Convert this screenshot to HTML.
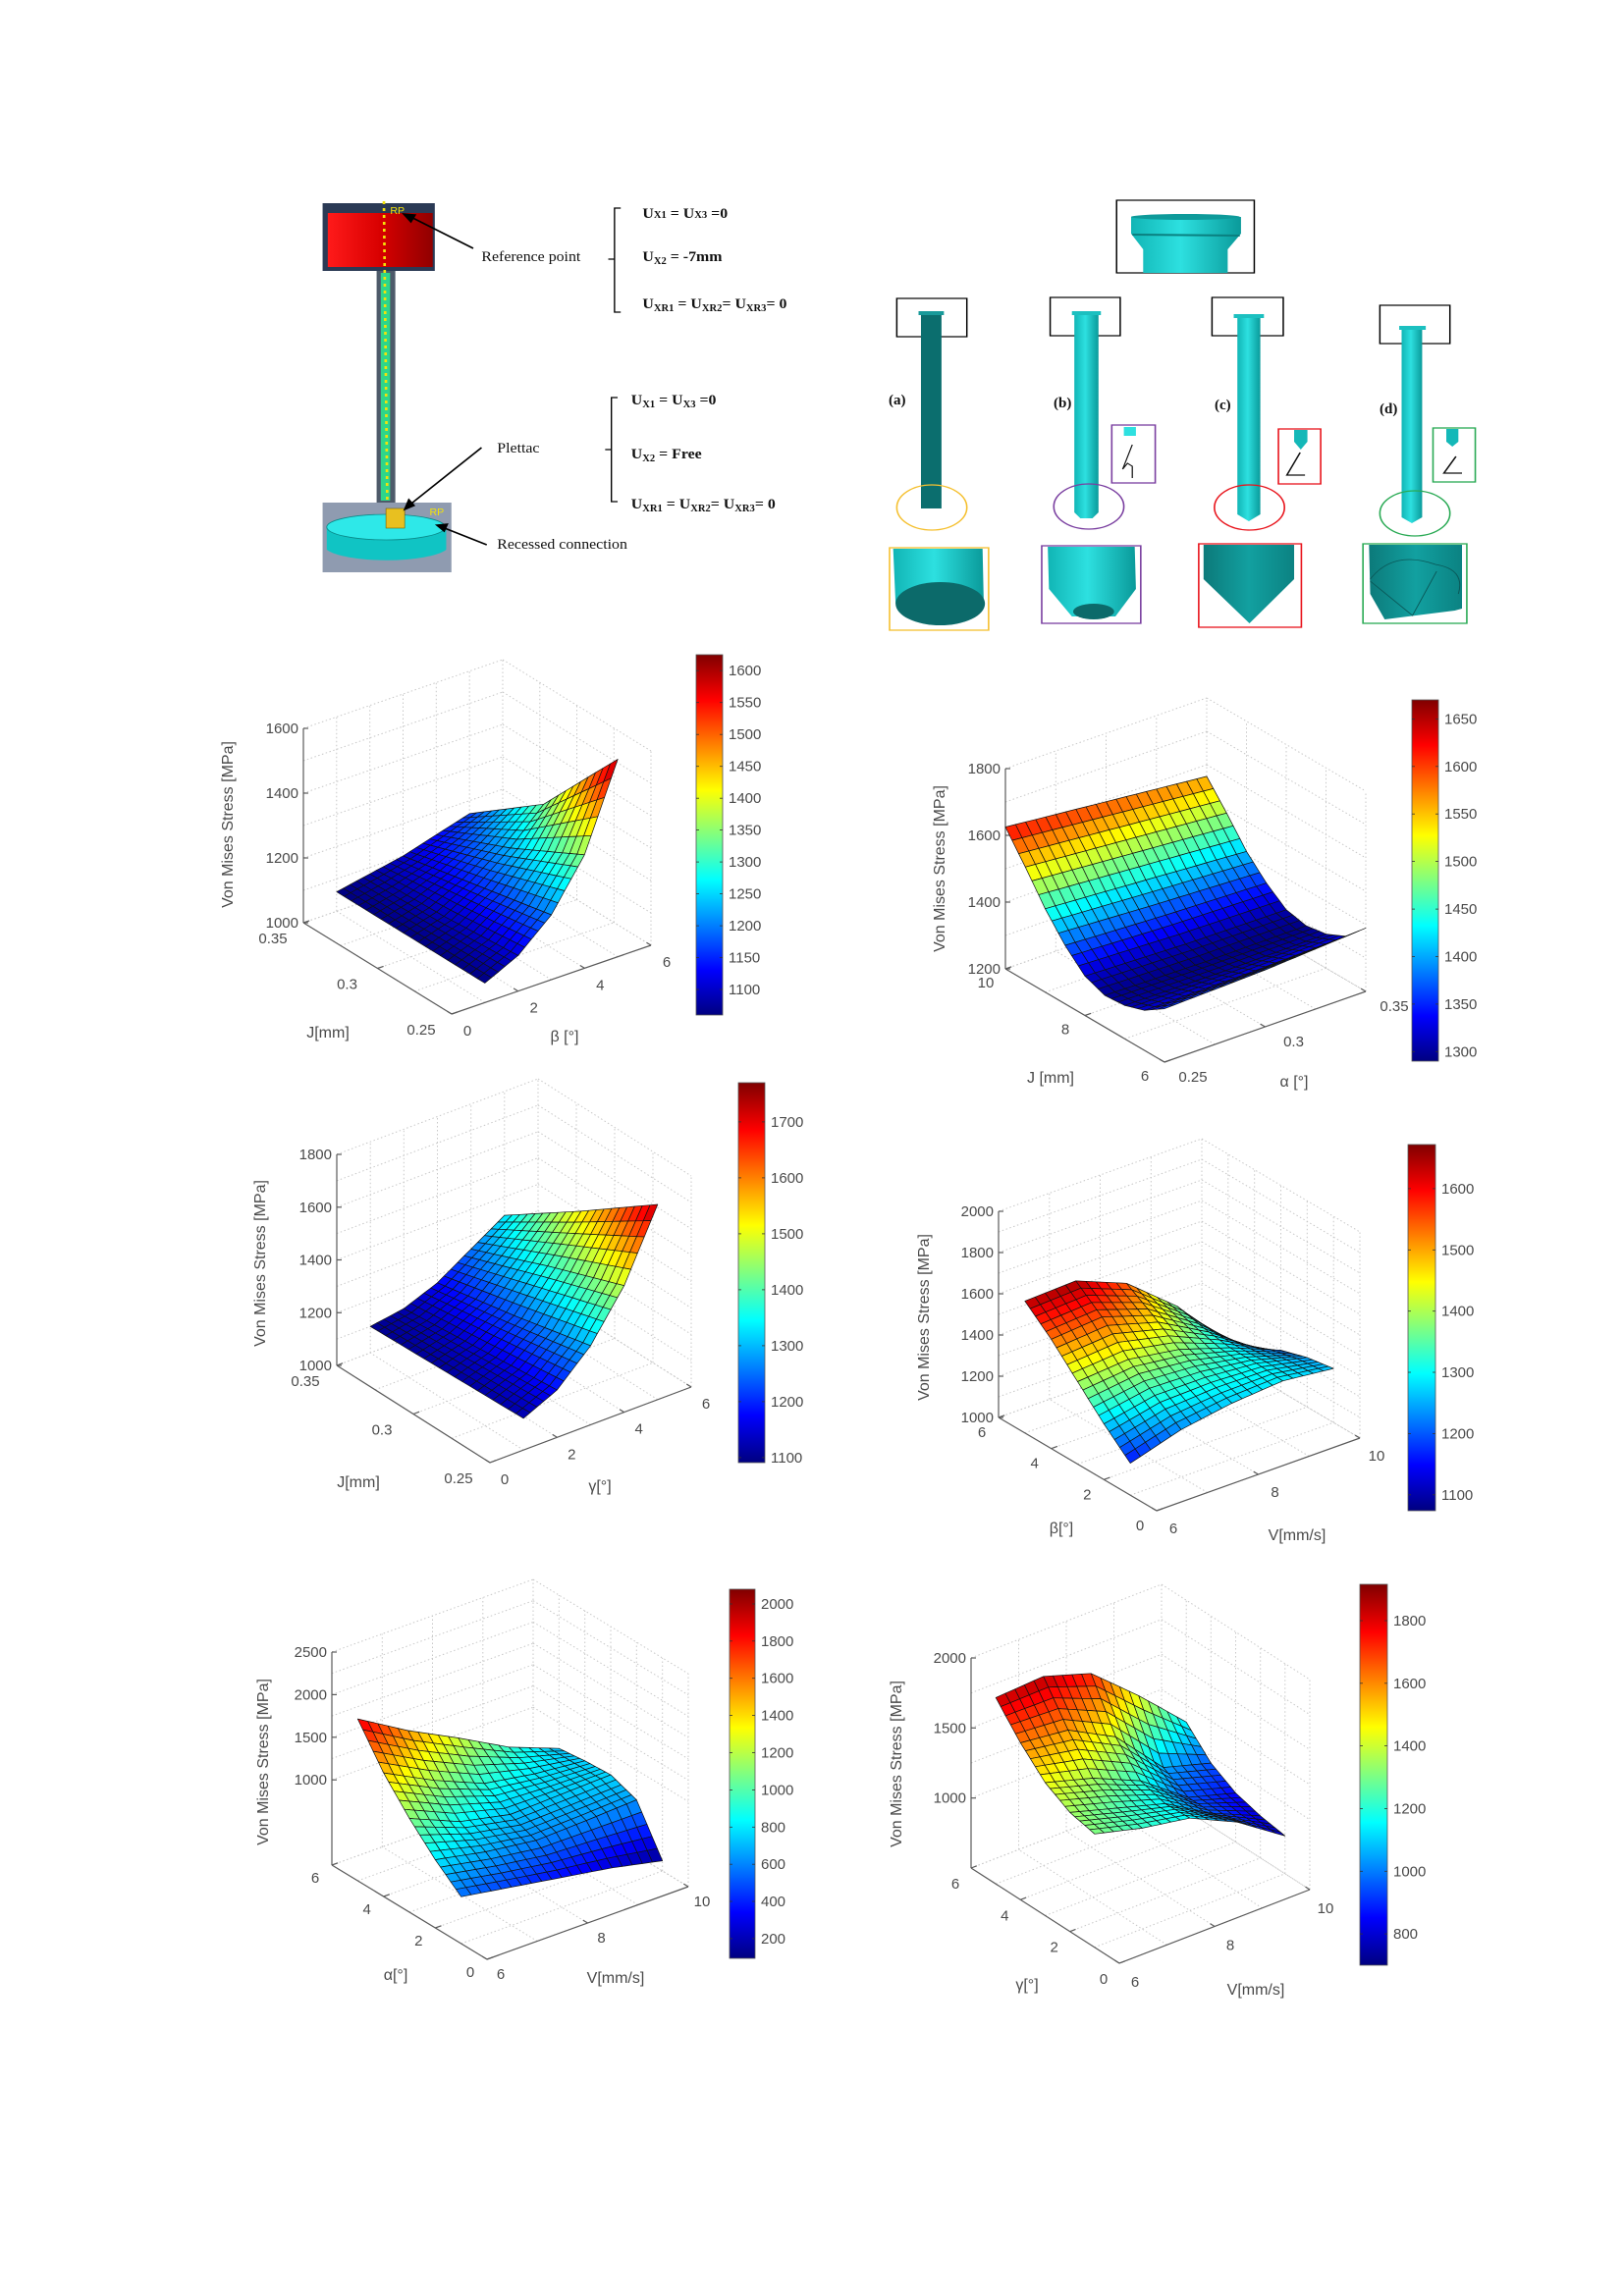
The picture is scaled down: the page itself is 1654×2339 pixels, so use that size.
<!DOCTYPE html>
<html><head><meta charset="utf-8"><title>Von Mises stress surfaces</title>
<style>
html,body{margin:0;padding:0;background:#fff;}
svg{display:block;}
.tk{font-family:"Liberation Sans",sans-serif;font-size:15px;fill:#4a4a4a;}
.lb{font-family:"Liberation Sans",sans-serif;font-size:16px;fill:#4a4a4a;}
.sf{font-family:"Liberation Serif",serif;font-size:15px;fill:#111;}
.sb{font-family:"Liberation Serif",serif;font-size:15px;font-weight:bold;fill:#111;}
</style></head>
<body>
<svg id="root" xmlns="http://www.w3.org/2000/svg" width="1654" height="2339" viewBox="0 0 1654 2339">
<defs>
<linearGradient id="redcyl" x1="0" x2="1"><stop offset="0" stop-color="#ff1a1a"/><stop offset="0.5" stop-color="#d80000"/><stop offset="1" stop-color="#900000"/></linearGradient>
<linearGradient id="cyan" x1="0" x2="1"><stop offset="0" stop-color="#11b5b5"/><stop offset="0.45" stop-color="#2de0e0"/><stop offset="1" stop-color="#0a9a9a"/></linearGradient>
<linearGradient id="cyanD" x1="0" x2="1"><stop offset="0" stop-color="#0c7a7a"/><stop offset="0.5" stop-color="#12a0a0"/><stop offset="1" stop-color="#0b8282"/></linearGradient>
</defs>

<g transform="matrix(1.058 0 0 1 -17.4 0)">
  <rect x="327" y="207" width="108" height="69" fill="#2b3a55"/>
  <rect x="332" y="217" width="101" height="55" fill="url(#redcyl)"/>
  <rect x="379" y="276" width="18" height="236" fill="#4e5a6a"/>
  <rect x="383" y="278" width="9" height="232" fill="#2ed68a"/>
  <line x1="386" y1="205" x2="390" y2="582" stroke="#f2e20a" stroke-width="2.5" stroke-dasharray="3 4"/>
  <text x="392" y="218" font-family="Liberation Sans" font-size="10" fill="#f2e20a">RP</text>
  <rect x="327" y="512" width="124" height="71" fill="#8f9bb0"/>
  <path d="M331 537 L331 560 A60 15 0 0 0 446 560 L446 537 Z" fill="#10c4c4"/>
  <ellipse cx="388" cy="537" rx="57" ry="13" fill="#2ee8e8" stroke="#0a8a8a" stroke-width="0.8"/>
  <rect x="388" y="518" width="18" height="20" fill="#e8c020" stroke="#7a6000" stroke-width="0.6"/>
  <text x="430" y="525" font-family="Liberation Sans" font-size="10" fill="#f2e20a">RP</text>
  <g stroke="#000" stroke-width="1.6" fill="#000">
    <line x1="472" y1="253" x2="410" y2="220"/>
    <polygon points="405,218 416,219 412,226"/>
    <line x1="480" y1="456" x2="410" y2="515"/>
    <polygon points="406,519 410,509 415,515"/>
    <line x1="485" y1="555" x2="442" y2="537"/>
    <polygon points="437,535 447,534 444,541"/>
  </g>
  <text class="sf" x="480" y="266">Reference point</text>
  <text class="sf" x="495" y="461">Plettac</text>
  <text class="sf" x="495" y="559">Recessed connection</text>
  <path d="M614 212 L608 212 L608 318 L614 318 M608 264 L602 264" fill="none" stroke="#000" stroke-width="1.3"/>
  <path d="M611 405 L605 405 L605 511 L611 511 M605 458 L599 458" fill="none" stroke="#000" stroke-width="1.3"/>
  <text class="sf" x="635" y="222" font-weight="bold">U<tspan font-size="10">X1</tspan> = U<tspan font-size="10">X3</tspan> =0</text>
  <text class="sf" x="635" y="266" font-weight="bold">U<tspan font-size="10" dy="3">X2</tspan><tspan dy="-3"> = -7mm</tspan></text>
  <text class="sf" x="635" y="314" font-weight="bold">U<tspan font-size="10" dy="3">XR1</tspan><tspan dy="-3"> = U</tspan><tspan font-size="10" dy="3">XR2</tspan><tspan dy="-3">= U</tspan><tspan font-size="10" dy="3">XR3</tspan><tspan dy="-3">= 0</tspan></text>
  <text class="sf" x="624" y="412" font-weight="bold">U<tspan font-size="10" dy="3">X1</tspan><tspan dy="-3"> = U</tspan><tspan font-size="10" dy="3">X3</tspan><tspan dy="-3"> =0</tspan></text>
  <text class="sf" x="624" y="467" font-weight="bold">U<tspan font-size="10" dy="3">X2</tspan><tspan dy="-3"> = Free</tspan></text>
  <text class="sf" x="624" y="518" font-weight="bold">U<tspan font-size="10" dy="3">XR1</tspan><tspan dy="-3"> = U</tspan><tspan font-size="10" dy="3">XR2</tspan><tspan dy="-3">= U</tspan><tspan font-size="10" dy="3">XR3</tspan><tspan dy="-3">= 0</tspan></text>
</g>

<g transform="matrix(1.23 0 0 1 -204.7 0)">
  <rect x="1091" y="204" width="114" height="74" fill="none" stroke="#000" stroke-width="1.2"/>
  <path d="M1103 221 L1194 221 L1194 238 L1183 254 L1183 278 L1113 278 L1113 254 L1103 238 Z" fill="url(#cyan)"/>
  <ellipse cx="1148" cy="221" rx="45" ry="3" fill="#0e9a9a"/>
  <line x1="1104" y1="239" x2="1193" y2="240" stroke="#0a8080" stroke-width="2"/>

  <rect x="909" y="304" width="58" height="39" fill="none" stroke="#000" stroke-width="1.2"/>
  <rect x="929" y="320" width="17" height="198" fill="#0b6e6e"/>
  <rect x="927" y="317" width="21" height="4" fill="#189a9a"/>
  <rect x="1036" y="303" width="58" height="39" fill="none" stroke="#000" stroke-width="1.2"/>
  <path d="M1056 320 L1076 320 L1076 522 L1071 528 L1061 528 L1056 522 Z" fill="url(#cyan)"/>
  <rect x="1054" y="317" width="24" height="4" fill="#1cc0c0"/>
  <rect x="1170" y="303" width="59" height="39" fill="none" stroke="#000" stroke-width="1.2"/>
  <path d="M1191 323 L1210 323 L1210 524 L1200.5 531 L1191 524 Z" fill="url(#cyan)"/>
  <rect x="1188" y="320" width="25" height="4" fill="#1cc0c0"/>
  <rect x="1309" y="311" width="58" height="39" fill="none" stroke="#000" stroke-width="1.2"/>
  <path d="M1327 335 L1344 335 L1344 527 L1335.5 533 L1327 527 Z" fill="url(#cyan)"/>
  <rect x="1325" y="332" width="22" height="4" fill="#1cc0c0"/>

  <ellipse cx="938" cy="517" rx="29" ry="23" fill="none" stroke="#f5c030" stroke-width="1.3"/>
  <ellipse cx="1068" cy="516" rx="29" ry="23" fill="none" stroke="#7a3fa0" stroke-width="1.3"/>
  <ellipse cx="1201" cy="517" rx="29" ry="23" fill="none" stroke="#e8141c" stroke-width="1.3"/>
  <ellipse cx="1338" cy="523" rx="29" ry="23" fill="none" stroke="#2aaa55" stroke-width="1.3"/>

  <rect x="1087" y="433" width="36" height="59" fill="none" stroke="#7a3fa0" stroke-width="1.3"/>
  <rect x="1097" y="435" width="10" height="9" fill="#2ee0e0"/>
  <path d="M1104 453 L1096 478 L1100 472 L1104 475 L1104 487" fill="none" stroke="#111" stroke-width="1"/>
  <rect x="1225" y="437" width="35" height="56" fill="none" stroke="#e8141c" stroke-width="1.3"/>
  <path d="M1238 438 L1249 438 L1249 450 L1243.5 458 L1238 450 Z" fill="#14b8b8"/>
  <path d="M1243 461 L1232 484 L1247 484" fill="none" stroke="#111" stroke-width="1.3"/>
  <rect x="1353" y="436" width="35" height="55" fill="none" stroke="#2aaa55" stroke-width="1.3"/>
  <path d="M1364 437 L1374 437 L1374 450 L1369 455 L1364 450 Z" fill="#14b8b8"/>
  <path d="M1372 465 L1362 482 L1377 482" fill="none" stroke="#111" stroke-width="1.3"/>

  <rect x="903" y="558" width="82" height="84" fill="none" stroke="#f5c030" stroke-width="1.3"/>
  <path d="M906 559 L980 559 L981 615 L908 615 Z" fill="url(#cyan)"/>
  <ellipse cx="945" cy="615" rx="37" ry="22" fill="#0c6a6a"/>
  <rect x="1029" y="556" width="82" height="79" fill="none" stroke="#7a3fa0" stroke-width="1.3"/>
  <path d="M1034 557 L1106 557 L1107 600 L1090 628 L1054 628 L1035 600 Z" fill="url(#cyan)"/>
  <ellipse cx="1072" cy="623" rx="17" ry="8" fill="#0c6a6a"/>
  <rect x="1159" y="554" width="85" height="85" fill="none" stroke="#e8141c" stroke-width="1.3"/>
  <path d="M1163 555 L1238 555 L1238 590 L1201 635 L1163 590 Z" fill="url(#cyanD)"/>
  <rect x="1295" y="554" width="86" height="81" fill="none" stroke="#2aaa55" stroke-width="1.3"/>
  <path d="M1300 555 L1377 555 L1377 620 L1371 622 L1313 631 L1301 605 Z" fill="url(#cyanD)"/>
  <path d="M1301 590 Q1320 560 1355 575 Q1380 580 1374 605 M1301 592 L1336 627 L1356 582" fill="none" stroke="#0a5858" stroke-width="0.8"/>
</g>
<text class="sb" x="905" y="412">(a)</text>
<text class="sb" x="1073" y="415">(b)</text>
<text class="sb" x="1237" y="417">(c)</text>
<text class="sb" x="1405" y="421">(d)</text>

<g id="charts"></g>
</svg>

<script>
// ---------- Chart 1: stress vs J and beta ----------
const c1_J = [0.25, 0.30, 0.35];
const c1_beta = [1, 2, 3, 4, 5];
const c1_z = [
  [1060, 1110, 1200, 1350, 1610],
  [1060, 1090, 1150, 1230, 1330],
  [1060, 1080, 1100, 1130, 1160]
];
const c1_Jticks = [0.25, 0.3, 0.35];
const c1_betaTicks = [0, 2, 4, 6];
const c1_zTicks = [1000, 1200, 1400, 1600];
const c1_cbTicks = [1100, 1150, 1200, 1250, 1300, 1350, 1400, 1450, 1500, 1550, 1600];

// ---------- Chart 2: stress vs J and alpha ----------
const c2_J = [6, 6.5, 7, 7.5, 8, 8.5, 9, 9.5, 10];
const c2_alpha = [0.25, 0.30, 0.35];
const c2_z = [
  [1360, 1370, 1390],
  [1320, 1322, 1330],
  [1300, 1298, 1302],
  [1295, 1290, 1292],
  [1318, 1308, 1305],
  [1375, 1360, 1350],
  [1450, 1430, 1410],
  [1540, 1515, 1490],
  [1625, 1595, 1565]
];
const c2_Jticks = [6, 8, 10];
const c2_alphaTicks = [0.25, 0.3, 0.35];
const c2_zTicks = [1200, 1400, 1600, 1800];
const c2_cbTicks = [1300, 1350, 1400, 1450, 1500, 1550, 1600, 1650];

// ---------- Chart 3: stress vs J and gamma ----------
const c3_J = [0.25, 0.30, 0.35];
const c3_gamma = [1, 2, 3, 4, 5];
const c3_z = [
  [1120, 1180, 1300, 1480, 1740],
  [1110, 1150, 1230, 1370, 1530],
  [1100, 1120, 1170, 1250, 1330]
];
const c3_Jticks = [0.25, 0.3, 0.35];
const c3_gammaTicks = [0, 2, 4, 6];
const c3_zTicks = [1000, 1200, 1400, 1600, 1800];
const c3_cbTicks = [1100, 1200, 1300, 1400, 1500, 1600, 1700];

// ---------- Chart 4: stress vs beta and V ----------
const c4_beta = [1, 2, 3, 4, 5];
const c4_V = [6, 7, 8, 9, 10];
const c4_z = [
  [1155, 1230, 1270, 1290, 1262],
  [1270, 1320, 1320, 1300, 1240],
  [1400, 1420, 1380, 1300, 1200],
  [1530, 1550, 1470, 1320, 1130],
  [1640, 1650, 1550, 1350, 1080]
];
const c4_betaTicks = [0, 2, 4, 6];
const c4_VTicks = [6, 8, 10];
const c4_zTicks = [1000, 1200, 1400, 1600, 1800, 2000];
const c4_cbTicks = [1100, 1200, 1300, 1400, 1500, 1600];

// ---------- Chart 5: stress vs alpha and V ----------
const c5_alpha = [1, 2, 3, 4, 5];
const c5_V = [6, 7, 8, 9, 10];
const c5_z = [
  [550, 450, 350, 250, 120],
  [800, 680, 600, 620, 650],
  [1100, 850, 720, 740, 760],
  [1450, 1150, 900, 800, 740],
  [1900, 1550, 1250, 930, 700]
];
const c5_alphaTicks = [0, 2, 4, 6];
const c5_VTicks = [6, 8, 10];
const c5_zTicks = [1000, 1500, 2000, 2500];
const c5_cbTicks = [200, 400, 600, 800, 1000, 1200, 1400, 1600, 1800, 2000];

// ---------- Chart 6: stress vs gamma and V ----------
const c6_gamma = [1, 2, 3, 4, 5];
const c6_V = [6, 7, 8, 9, 10];
const c6_z = [
  [1310, 1220, 1160, 1000, 770],
  [1350, 1250, 1150, 950, 800],
  [1450, 1350, 1200, 950, 850],
  [1620, 1580, 1400, 1050, 950],
  [1830, 1850, 1740, 1450, 1130]
];
const c6_gammaTicks = [0, 2, 4, 6];
const c6_VTicks = [6, 8, 10];
const c6_zTicks = [1000, 1500, 2000];
const c6_cbTicks = [800, 1000, 1200, 1400, 1600, 1800];

const NS = 'http://www.w3.org/2000/svg';
const root = document.getElementById('charts');

function mk(tag, attrs, parent) {
  const e = document.createElementNS(NS, tag);
  for (const k in attrs) e.setAttribute(k, attrs[k]);
  (parent || root).appendChild(e);
  return e;
}
function cl(v) { return Math.max(0, Math.min(1, v)); }
function jet(t) {
  t = cl(t);
  const r = cl(1.5 - Math.abs(4 * t - 3)), g = cl(1.5 - Math.abs(4 * t - 2)), b = cl(1.5 - Math.abs(4 * t - 1));
  return 'rgb(' + Math.round(r * 255) + ',' + Math.round(g * 255) + ',' + Math.round(b * 255) + ')';
}
function fmt(v) { return String(v); }

function drawChart(cfg, aVals, bVals, zGrid, aTicks, bTicks, zTicks, cbTicks) {
  const g = mk('g', {});
  
  
  const fa = a => (a - cfg.aRange[0]) / (cfg.aRange[1] - cfg.aRange[0]);
  const fb = b => (b - cfg.bRange[0]) / (cfg.bRange[1] - cfg.bRange[0]);
  const fz = z => (z - cfg.zRange[0]) / (cfg.zRange[1] - cfg.zRange[0]);
  const P = (u, v, w) => [cfg.O[0] + u * cfg.A[0] + v * cfg.B[0] + w * cfg.Z[0],
                          cfg.O[1] + u * cfg.A[1] + v * cfg.B[1] + w * cfg.Z[1]];
  const line = (p, q, attrs) => mk('line', Object.assign({x1: p[0].toFixed(1), y1: p[1].toFixed(1), x2: q[0].toFixed(1), y2: q[1].toFixed(1)}, attrs), g);
  const grid = {stroke: '#c8c8c8', 'stroke-width': 1, 'stroke-dasharray': '1.5 2.5'};

  const aT = [], bT = [], zT = [];
  aTicks.forEach((t, i) => { aT.push(fa(t)); if (i < aTicks.length - 1) aT.push(fa((t + aTicks[i + 1]) / 2)); });
  bTicks.forEach((t, i) => { bT.push(fb(t)); if (i < bTicks.length - 1) bT.push(fb((t + bTicks[i + 1]) / 2)); });
  zTicks.forEach((t, i) => { zT.push(fz(t)); if (i < zTicks.length - 1) zT.push(fz((t + zTicks[i + 1]) / 2)); });
  if (fz(zTicks[0]) > 0.05) zT.push(0);
  aT.forEach(u => { line(P(u, 0, 0), P(u, 1, 0), grid); line(P(u, 1, 0), P(u, 1, 1), grid); });
  bT.forEach(v => { line(P(0, v, 0), P(1, v, 0), grid); line(P(1, v, 0), P(1, v, 1), grid); });
  zT.forEach(w => { line(P(1, 0, w), P(1, 1, w), grid); line(P(1, 1, w), P(0, 1, w), grid); });
  line(P(1, 1, 0), P(1, 1, 1), grid);

  const ax = {stroke: '#5a5a5a', 'stroke-width': 1.2};
  const zAxis = line(P(1, 0, 0), P(1, 0, 1), ax);
  
  
  const aAxis = line(P(1, 0, 0), P(0, 0, 0), ax);
  
  
  const bAxis = line(P(0, 0, 0), P(0, 1, 0), ax);
  
  

  zTicks.forEach(t => {
    const p = P(1, 0, fz(t));
    line(p, [p[0] + 5, p[1]], ax);
    const tx = mk('text', {x: (p[0] - 5).toFixed(1), y: (p[1] + 5).toFixed(1), 'text-anchor': 'end', class: 'tk'}, g);
    tx.textContent = fmt(t);
    
    
  });
  aTicks.forEach(t => {
    const p = P(fa(t), 0, 0);
    line(p, [p[0] + cfg.B[0] * 0.03, p[1] + cfg.B[1] * 0.03], ax);
    const tx = mk('text', {x: (p[0] + cfg.aOff[0]).toFixed(1), y: (p[1] + cfg.aOff[1] + 5).toFixed(1), 'text-anchor': 'middle', class: 'tk'}, g);
    tx.textContent = fmt(t);
    
    
  });
  bTicks.forEach(t => {
    const p = P(0, fb(t), 0);
    line(p, [p[0] + cfg.A[0] * 0.03, p[1] + cfg.A[1] * 0.03], ax);
    const tx = mk('text', {x: (p[0] + cfg.bOff[0]).toFixed(1), y: (p[1] + cfg.bOff[1] + 5).toFixed(1), 'text-anchor': 'middle', class: 'tk'}, g);
    tx.textContent = fmt(t);
    
    
  });

  const zl = mk('text', {x: cfg.zLab[0], y: cfg.zLab[1], 'text-anchor': 'middle', class: 'lb', transform: 'rotate(-90 ' + cfg.zLab[0] + ' ' + cfg.zLab[1] + ')'}, g);
  zl.textContent = 'Von Mises Stress [MPa]';
  
  
  const al = mk('text', {x: cfg.aLab[0], y: cfg.aLab[1] + 5, 'text-anchor': 'middle', class: 'lb'}, g);
  al.textContent = cfg.aTitle;
  
  
  const bl = mk('text', {x: cfg.bLab[0], y: cfg.bLab[1] + 5, 'text-anchor': 'middle', class: 'lb'}, g);
  bl.textContent = cfg.bTitle;
  
  

  const na = aVals.length, nb = bVals.length;
  const sa = Math.max(1, Math.round(20 / (na - 1))), sb = Math.max(1, Math.round(20 / (nb - 1)));
  const Ma = (na - 1) * sa, Mb = (nb - 1) * sb;
  function sample(i, j) {
    const ia = i / sa, jb = j / sb;
    const i0 = Math.min(Math.floor(ia), na - 2), j0 = Math.min(Math.floor(jb), nb - 2);
    const ti = ia - i0, tj = jb - j0;
    const z = zGrid[i0][j0] * (1 - ti) * (1 - tj) + zGrid[i0 + 1][j0] * ti * (1 - tj) +
              zGrid[i0][j0 + 1] * (1 - ti) * tj + zGrid[i0 + 1][j0 + 1] * ti * tj;
    const a = aVals[i0] + (aVals[i0 + 1] - aVals[i0]) * ti;
    const b = bVals[j0] + (bVals[j0 + 1] - bVals[j0]) * tj;
    return {p: P(fa(a), fb(b), fz(z)), z: z, d: fa(a) + fb(b)};
  }
  const pts = [];
  for (let i = 0; i <= Ma; i++) { pts.push([]); for (let j = 0; j <= Mb; j++) pts[i].push(sample(i, j)); }
  const quads = [];
  for (let i = 0; i < Ma; i++) for (let j = 0; j < Mb; j++) {
    const q = [pts[i][j], pts[i + 1][j], pts[i + 1][j + 1], pts[i][j + 1]];
    quads.push({q: q, d: (q[0].d + q[1].d + q[2].d + q[3].d) / 4, z: (q[0].z + q[1].z + q[2].z + q[3].z) / 4});
  }
  quads.sort((x, y) => y.d - x.d);
  const sg = mk('g', {stroke: '#111', 'stroke-width': 0.7, 'stroke-linejoin': 'round'}, g);
  
  
  quads.forEach(Q => {
    const pp = Q.q.map(o => o.p[0].toFixed(1) + ',' + o.p[1].toFixed(1)).join(' ');
    const poly = mk('polygon', {points: pp, fill: jet((Q.z - cfg.cRange[0]) / (cfg.cRange[1] - cfg.cRange[0]))}, sg);
    
    
  });

  const cb = cfg.cb;
  const gid = 'jet' + cfg.name;
  const lg = mk('linearGradient', {id: gid, x1: 0, y1: 1, x2: 0, y2: 0}, g);
  for (let k = 0; k <= 8; k++) mk('stop', {offset: k / 8, 'stop-color': jet(k / 8)}, lg);
  const bar = mk('rect', {x: cb[0], y: cb[1], width: cb[2], height: cb[3], fill: 'url(#' + gid + ')', stroke: '#555', 'stroke-width': 0.8}, g);
  
  
  const cy = v => cb[1] + cb[3] * (1 - (v - cfg.cRange[0]) / (cfg.cRange[1] - cfg.cRange[0]));
  cbTicks.forEach(t => {
    const y = cy(t);
    line([cb[0], y], [cb[0] + 3, y], {stroke: '#333', 'stroke-width': 0.8});
    line([cb[0] + cb[2] - 3, y], [cb[0] + cb[2], y], {stroke: '#333', 'stroke-width': 0.8});
    const tx = mk('text', {x: cb[0] + cb[2] + 6, y: (y + 5).toFixed(1), class: 'tk'}, g);
    tx.textContent = fmt(t);
    
    
  });
}

drawChart({name: 'chart-j-beta', aRange: [0.25, 0.35], bRange: [0, 6], zRange: [1000, 1600],
  O: [460, 1033], A: [-151, -93], B: [203, -70], Z: [0, -198], aOff: [-31, 16], bOff: [16, 17],
  zLab: [237, 840], aLab: [334, 1052], bLab: [575, 1056], aTitle: 'J[mm]', bTitle: 'β [°]',
  cRange: [1060, 1625], cb: [709, 667, 27, 367]},
  c1_J, c1_beta, c1_z, c1_Jticks, c1_betaTicks, c1_zTicks, c1_cbTicks);

drawChart({name: 'chart-j-alpha', aRange: [6, 10], bRange: [0.25, 0.35], zRange: [1200, 1800],
  O: [1186, 1082], A: [-162, -95], B: [205, -72], Z: [0, -204], aOff: [-20, 14], bOff: [29, 15],
  zLab: [962, 885], aLab: [1070, 1098], bLab: [1318, 1102], aTitle: 'J [mm]', bTitle: 'α [°]',
  cRange: [1290, 1670], cb: [1438, 713, 27, 368]},
  c2_J, c2_alpha, c2_z, c2_Jticks, c2_alphaTicks, c2_zTicks, c2_cbTicks);

drawChart({name: 'chart-j-gamma', aRange: [0.25, 0.35], bRange: [0, 6], zRange: [1000, 1800],
  O: [499, 1490], A: [-156, -99], B: [205, -77], Z: [0, -215], aOff: [-32, 16], bOff: [15, 17],
  zLab: [270, 1287], aLab: [365, 1510], bLab: [611, 1514], aTitle: 'J[mm]', bTitle: 'γ[°]',
  cRange: [1091, 1770], cb: [752, 1103, 27, 387]},
  c3_J, c3_gamma, c3_z, c3_Jticks, c3_gammaTicks, c3_zTicks, c3_cbTicks);

drawChart({name: 'chart-beta-v', aRange: [0, 6], bRange: [6, 10], zRange: [1000, 2000],
  O: [1178, 1539], A: [-161, -95], B: [207, -74], Z: [0, -210], aOff: [-17, 15], bOff: [17, 18],
  zLab: [946, 1342], aLab: [1081, 1557], bLab: [1321, 1564], aTitle: 'β[°]', bTitle: 'V[mm/s]',
  cRange: [1074, 1672], cb: [1434, 1166, 28, 373]},
  c4_beta, c4_V, c4_z, c4_betaTicks, c4_VTicks, c4_zTicks, c4_cbTicks);

drawChart({name: 'chart-alpha-v', aRange: [0, 6], bRange: [6, 10], zRange: [0, 2500],
  O: [496, 1996], A: [-158, -96], B: [205, -74], Z: [0, -217], aOff: [-17, 13], bOff: [14, 15],
  zLab: [273, 1795], aLab: [403, 2012], bLab: [627, 2015], aTitle: 'α[°]', bTitle: 'V[mm/s]',
  cRange: [94, 2079], cb: [743, 1619, 26, 376]},
  c5_alpha, c5_V, c5_z, c5_alphaTicks, c5_VTicks, c5_zTicks, c5_cbTicks);

drawChart({name: 'chart-gamma-v', aRange: [0, 6], bRange: [6, 10], zRange: [500, 2000],
  O: [1140, 2000], A: [-151, -97], B: [194, -75], Z: [0, -214], aOff: [-16, 16], bOff: [16, 19],
  zLab: [918, 1797], aLab: [1046, 2022], bLab: [1279, 2027], aTitle: 'γ[°]', bTitle: 'V[mm/s]',
  cRange: [700, 1916], cb: [1385, 1614, 28, 388]},
  c6_gamma, c6_V, c6_z, c6_gammaTicks, c6_VTicks, c6_zTicks, c6_cbTicks);
</script>
</body></html>
